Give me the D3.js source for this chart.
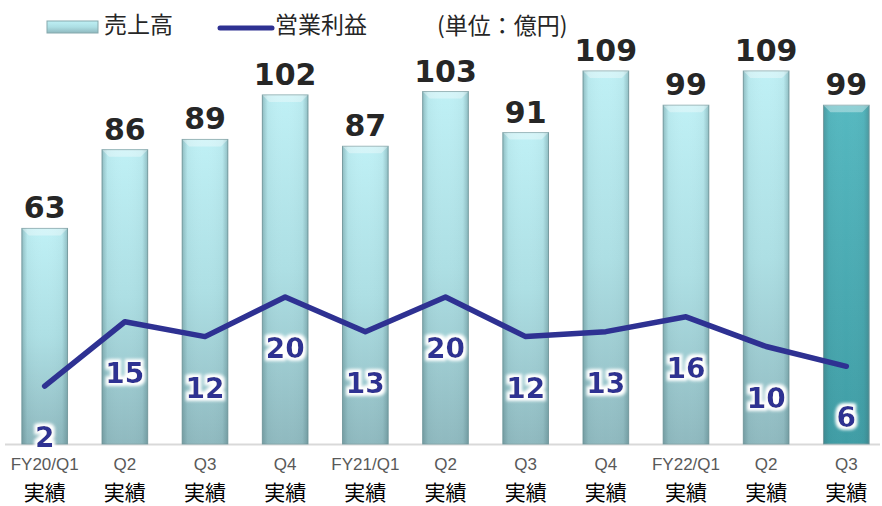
<!DOCTYPE html>
<html>
<head>
<meta charset="utf-8">
<script src="https://cdn.jsdelivr.net/npm/d3@7"></script>
<style>
  body { margin: 0; background: #fff; }
  svg { display: block; }
</style>
</head>
<body>
<svg id="chart"></svg>
<script>
var width = 882, height = 506;

// data
var periods = ["FY20/Q1", "Q2", "Q3", "Q4", "FY21/Q1", "Q2", "Q3", "Q4", "FY22/Q1", "Q2", "Q3"];
var sales = [63, 86, 89, 102, 87, 103, 91, 109, 99, 109, 99];
var profit = [2, 15, 12, 20, 13, 20, 12, 13, 16, 10, 6];
var subLabel = "実績";
var legendNames = ["売上高", "営業利益"];
var unitLabel = "(単位：億円)";

var svg = d3.select("#chart").attr("width", width).attr("height", height);
var defs = svg.append("defs");

var x = d3.scaleBand().domain(d3.range(periods.length)).range([5, 886]).paddingInner(0.43).paddingOuter(0.21);
var y = d3.scaleLinear().domain([0, 109]).range([444, 71]);
var y2 = d3.scaleLinear().domain([0, 20]).range([396, 297]);

function grad(id, stops, vertical) {
  var g = defs.append("linearGradient").attr("id", id)
    .attr("x1", 0).attr("y1", 0).attr("x2", vertical ? 0 : 1).attr("y2", vertical ? 1 : 0);
  stops.forEach(function(s) {
    g.append("stop").attr("offset", s[0]).attr("stop-color", s[1]).attr("stop-opacity", s[2] == null ? 1 : s[2]);
  });
}
grad("barFill", [[0, "#bff0f5"], [0.5, "#addfe4"], [1, "#8fb9bf"]], true);
grad("lastFill", [[0, "#55b8c0"], [1, "#3f9da5"]], true);
grad("edgeShade", [[0, "#3d6469", 0.35], [0.12, "#3d6469", 0.05], [0.5, "#ffffff", 0], [0.88, "#3d6469", 0.05], [1, "#3d6469", 0.35]], false);

var glow = defs.append("filter").attr("id", "glow").attr("x", "-30%").attr("y", "-30%").attr("width", "160%").attr("height", "160%");
glow.append("feMorphology").attr("in", "SourceAlpha").attr("operator", "dilate").attr("radius", 2.5).attr("result", "d");
glow.append("feGaussianBlur").attr("in", "d").attr("stdDeviation", 1.5).attr("result", "b");
glow.append("feFlood").attr("flood-color", "#ffffff");
glow.append("feComposite").attr("in2", "b").attr("operator", "in").attr("result", "w");
var m = glow.append("feMerge");
m.append("feMergeNode").attr("in", "w");
m.append("feMergeNode").attr("in", "SourceGraphic");

// baseline
svg.append("line").attr("x1", 5).attr("x2", 880).attr("y1", 444.5).attr("y2", 444.5)
  .attr("stroke", "#d9d9d9").attr("stroke-width", 2);

// bars
var bars = svg.append("g").selectAll("g").data(sales).enter().append("g");
bars.append("rect")
  .attr("x", function(d, i) { return x(i); })
  .attr("y", function(d) { return y(d); })
  .attr("width", x.bandwidth())
  .attr("height", function(d) { return y(0) - y(d); })
  .attr("fill", function(d, i) { return i == sales.length - 1 ? "url(#lastFill)" : "url(#barFill)"; })
  .attr("stroke", "#86a9ad").attr("stroke-width", 1);
bars.append("rect")
  .attr("x", function(d, i) { return x(i); })
  .attr("y", function(d) { return y(d); })
  .attr("width", x.bandwidth())
  .attr("height", function(d) { return y(0) - y(d); })
  .attr("fill", "url(#edgeShade)");
// top bevel highlight
bars.append("path")
  .attr("d", function(d, i) {
    var x0 = x(i), x1 = x(i) + x.bandwidth(), t = y(d);
    return "M" + x0 + "," + t + "L" + x1 + "," + t + "L" + (x1 - 7) + "," + (t + 7) + "L" + (x0 + 7) + "," + (t + 7) + "Z";
  })
  .attr("fill", "#ffffff").attr("opacity", 0.35);

// bar labels
svg.append("g").selectAll("text").data(sales).enter().append("text")
  .attr("x", function(d, i) { return x(i) + x.bandwidth() / 2; })
  .attr("y", function(d) { return y(d) - 10; })
  .attr("text-anchor", "middle")
  .attr("font-family", "DejaVu Sans, Verdana, sans-serif")
  .attr("font-weight", "bold").attr("font-size", 30)
  .attr("fill", "#262626")
  .text(function(d) { return d; });

// profit line
var line = d3.line()
  .x(function(d, i) { return x(i) + x.bandwidth() / 2; })
  .y(function(d) { return y2(d); });
svg.append("path").datum(profit)
  .attr("d", line)
  .attr("fill", "none").attr("stroke", "#2e3192").attr("stroke-width", 5.5)
  .attr("stroke-linejoin", "round").attr("stroke-linecap", "round");

// profit labels
svg.append("g").attr("filter", "url(#glow)").selectAll("text").data(profit).enter().append("text")
  .attr("x", function(d, i) { return x(i) + x.bandwidth() / 2; })
  .attr("y", function(d) { return y2(d) + 61; })
  .attr("text-anchor", "middle")
  .attr("font-family", "DejaVu Sans, Verdana, sans-serif")
  .attr("font-weight", "bold").attr("font-size", 28)
  .attr("fill", "#2e3192")
  .text(function(d) { return d; });

// x labels
var xl = svg.append("g").selectAll("g").data(periods).enter().append("g")
  .attr("transform", function(d, i) { return "translate(" + (x(i) + x.bandwidth() / 2) + ",0)"; });
xl.append("text").attr("y", 470).attr("text-anchor", "middle")
  .attr("font-family", "Liberation Sans, Arial, sans-serif").attr("font-size", 17)
  .attr("fill", "#595959").text(function(d) { return d; });
xl.append("text").attr("y", 499.5).attr("text-anchor", "middle")
  .attr("font-family", "Noto Sans CJK JP, sans-serif").attr("font-size", 21)
  .attr("fill", "#000").text(subLabel);

// legend
var lg = svg.append("g");
lg.append("rect").attr("x", 47).attr("y", 21).attr("width", 51).attr("height", 12)
  .attr("fill", "url(#barFill)").attr("stroke", "#86a9ad");
lg.append("text").attr("x", 104).attr("y", 33)
  .attr("font-family", "Noto Sans CJK JP, sans-serif").attr("font-size", 23).attr("fill", "#262626")
  .text(legendNames[0]);
lg.append("line").attr("x1", 220).attr("x2", 272).attr("y1", 28).attr("y2", 28)
  .attr("stroke", "#2e3192").attr("stroke-width", 5).attr("stroke-linecap", "round");
lg.append("text").attr("x", 275).attr("y", 33)
  .attr("font-family", "Noto Sans CJK JP, sans-serif").attr("font-size", 23).attr("fill", "#262626")
  .text(legendNames[1]);
lg.append("text").attr("x", 437).attr("y", 34)
  .attr("font-family", "Noto Sans CJK JP, sans-serif").attr("font-size", 23).attr("fill", "#262626")
  .text(unitLabel);
</script>
</body>
</html>
